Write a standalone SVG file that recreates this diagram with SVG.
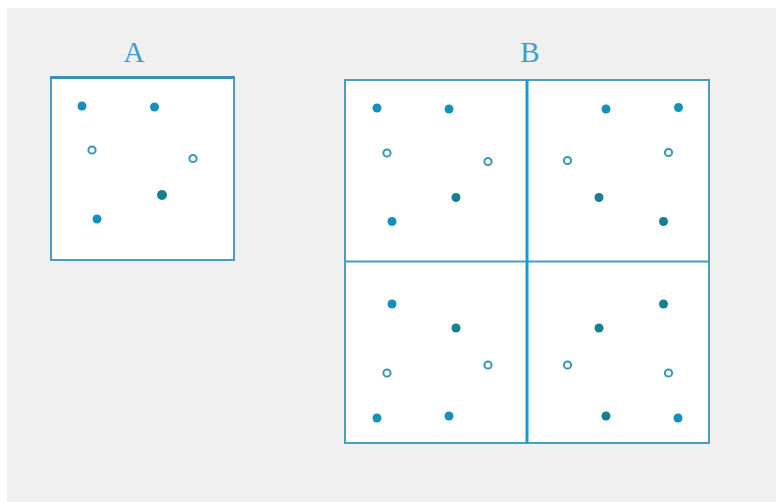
<svg xmlns="http://www.w3.org/2000/svg" width="776" height="502" viewBox="0 0 776 502">
<style>
.lbl{font-family:"Liberation Serif","DejaVu Serif",serif;font-size:29px;fill:#3f9cc8;text-anchor:middle}
.box{fill:#ffffff;stroke:#4a9dbd;stroke-width:2}
.div{stroke:#4a9dbd;stroke-width:2}
.vdiv{stroke:#1b98d4;stroke-width:3}
.f{fill:#1590bb}
.d{fill:#15808f}
.o{fill:#ffffff;stroke:#3a96b4;stroke-width:2}
</style>
<rect x="0" y="0" width="776" height="502" fill="#ffffff"/>
<rect x="7" y="8" width="769" height="494" fill="#f0f0f0"/>
<g id="A">
<text class="lbl" x="134" y="62">A</text>
<rect class="box" x="51" y="78" width="183" height="182"/>
<line x1="50" y1="77.5" x2="235" y2="77.5" stroke="#3c8fae" stroke-width="3"/>
<circle class="f" cx="82" cy="106" r="4.5"/>
<circle class="f" cx="154.5" cy="107" r="4.5"/>
<circle class="o" cx="92" cy="150" r="3.6"/>
<circle class="o" cx="193" cy="158.5" r="3.6"/>
<circle class="d" cx="162" cy="195" r="5"/>
<circle class="f" cx="97" cy="219" r="4.5"/>
</g>
<g id="B">
<text class="lbl" x="530" y="62">B</text>
<rect class="box" x="345" y="80" width="364" height="363"/>
<line class="div" x1="345" y1="261.5" x2="709" y2="261.5"/>
<line class="vdiv" x1="527" y1="80" x2="527" y2="443"/>
<g id="B-tl">
<circle class="f" cx="377" cy="108" r="4.5"/>
<circle class="f" cx="449" cy="109" r="4.5"/>
<circle class="o" cx="387" cy="153" r="3.6"/>
<circle class="o" cx="488" cy="161.5" r="3.6"/>
<circle class="d" cx="456" cy="197.5" r="4.5"/>
<circle class="f" cx="392" cy="221.5" r="4.5"/>
</g>
<g id="B-tr">
<circle class="f" cx="606" cy="109" r="4.5"/>
<circle class="f" cx="678.5" cy="107.5" r="4.5"/>
<circle class="o" cx="567.5" cy="160.5" r="3.6"/>
<circle class="o" cx="668.5" cy="152.5" r="3.6"/>
<circle class="d" cx="599" cy="197.5" r="4.5"/>
<circle class="d" cx="663.5" cy="221.5" r="4.5"/>
</g>
<g id="B-bl">
<circle class="f" cx="392" cy="304" r="4.5"/>
<circle class="d" cx="456" cy="328" r="4.5"/>
<circle class="o" cx="387" cy="373" r="3.6"/>
<circle class="o" cx="488" cy="365" r="3.6"/>
<circle class="f" cx="377" cy="418" r="4.5"/>
<circle class="f" cx="449" cy="416" r="4.5"/>
</g>
<g id="B-br">
<circle class="d" cx="663.5" cy="304" r="4.5"/>
<circle class="d" cx="599" cy="328" r="4.5"/>
<circle class="o" cx="567.5" cy="365" r="3.6"/>
<circle class="o" cx="668.5" cy="373" r="3.6"/>
<circle class="d" cx="606" cy="416" r="4.5"/>
<circle class="f" cx="678" cy="418" r="4.5"/>
</g>
</g>
<g id="connectors"/>
</svg>
